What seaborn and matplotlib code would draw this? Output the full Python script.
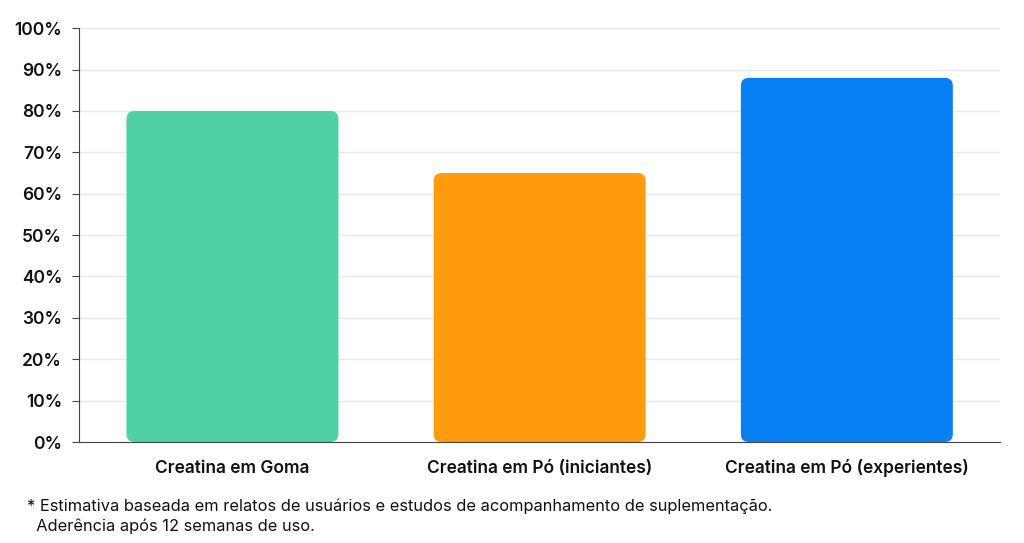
import matplotlib
matplotlib.use("Agg")
import matplotlib.pyplot as plt
import seaborn as sns
import pandas as pd
from matplotlib.patches import FancyBboxPatch
from matplotlib.ticker import PercentFormatter

# Chart data
categories = ["Creatina em Goma", "Creatina em Pó (iniciantes)", "Creatina em Pó (experientes)"]
adherence = [80, 65, 88]
colors = ["#4fd1a5", "#ff9b0c", "#0780f4"]
footnote = ("* Estimativa baseada em relatos de usuários e estudos de acompanhamento de suplementação.\n"
            "  Aderência após 12 semanas de uso.")

sns.set_style("white")
plt.rcParams['font.family'] = ['Inter', 'DejaVu Sans']

df = pd.DataFrame({"categoria": categories, "aderencia": adherence})

fig = plt.figure(figsize=(10.24, 5.43), dpi=100)
ax = fig.add_axes([0.077, 0.186, 0.9, 0.762])

sns.barplot(data=df, x="categoria", y="aderencia", hue="categoria",
            palette=colors, width=0.69, legend=False, ax=ax, saturation=1)

ax.set_ylim(0, 100)
ax.set_xlim(-0.5, 2.5)
ax.set_yticks(range(0, 101, 10))
ax.yaxis.set_major_formatter(PercentFormatter(decimals=0))
ax.grid(axis="y", color="#e8e8e8", linewidth=1)
ax.set_axisbelow(True)

# swap plain bars for rounded ones
fig.canvas.draw()
bbox = ax.get_window_extent()
px_x = bbox.width / 3.0
px_y = bbox.height / 100.0
radius = 8 / px_x
aspect = px_x / px_y
for p in list(ax.patches):
    x, y = p.get_x(), p.get_y()
    w, h = p.get_width(), p.get_height()
    fc = p.get_facecolor()
    p.set_visible(False)
    ax.add_patch(FancyBboxPatch((x, y), w, h,
                                boxstyle=f"round,pad=0,rounding_size={radius}",
                                mutation_aspect=aspect, facecolor=fc,
                                edgecolor="none", zorder=2))

for side in ["top", "right"]:
    ax.spines[side].set_visible(False)
ax.spines["left"].set_color("#444444")
ax.spines["bottom"].set_color("#444444")
ax.tick_params(axis="y", left=True, length=5, color="#444444", labelsize=12.5,
               labelcolor="#111111", pad=7)
ax.tick_params(axis="x", bottom=False, labelsize=12.5, labelcolor="#111111", pad=19)
for lbl in ax.get_yticklabels():
    lbl.set_fontweight("semibold")
for lbl in ax.get_xticklabels():
    lbl.set_fontweight("semibold")
    lbl.set_verticalalignment("baseline")
ax.set_xlabel("")
ax.set_ylabel("")

fig.text(0.026, 0.049, footnote, fontsize=11.8, color="#111111", va="center",
         linespacing=1.35)

fig.savefig("out.png", dpi=100)
plt.close(fig)
